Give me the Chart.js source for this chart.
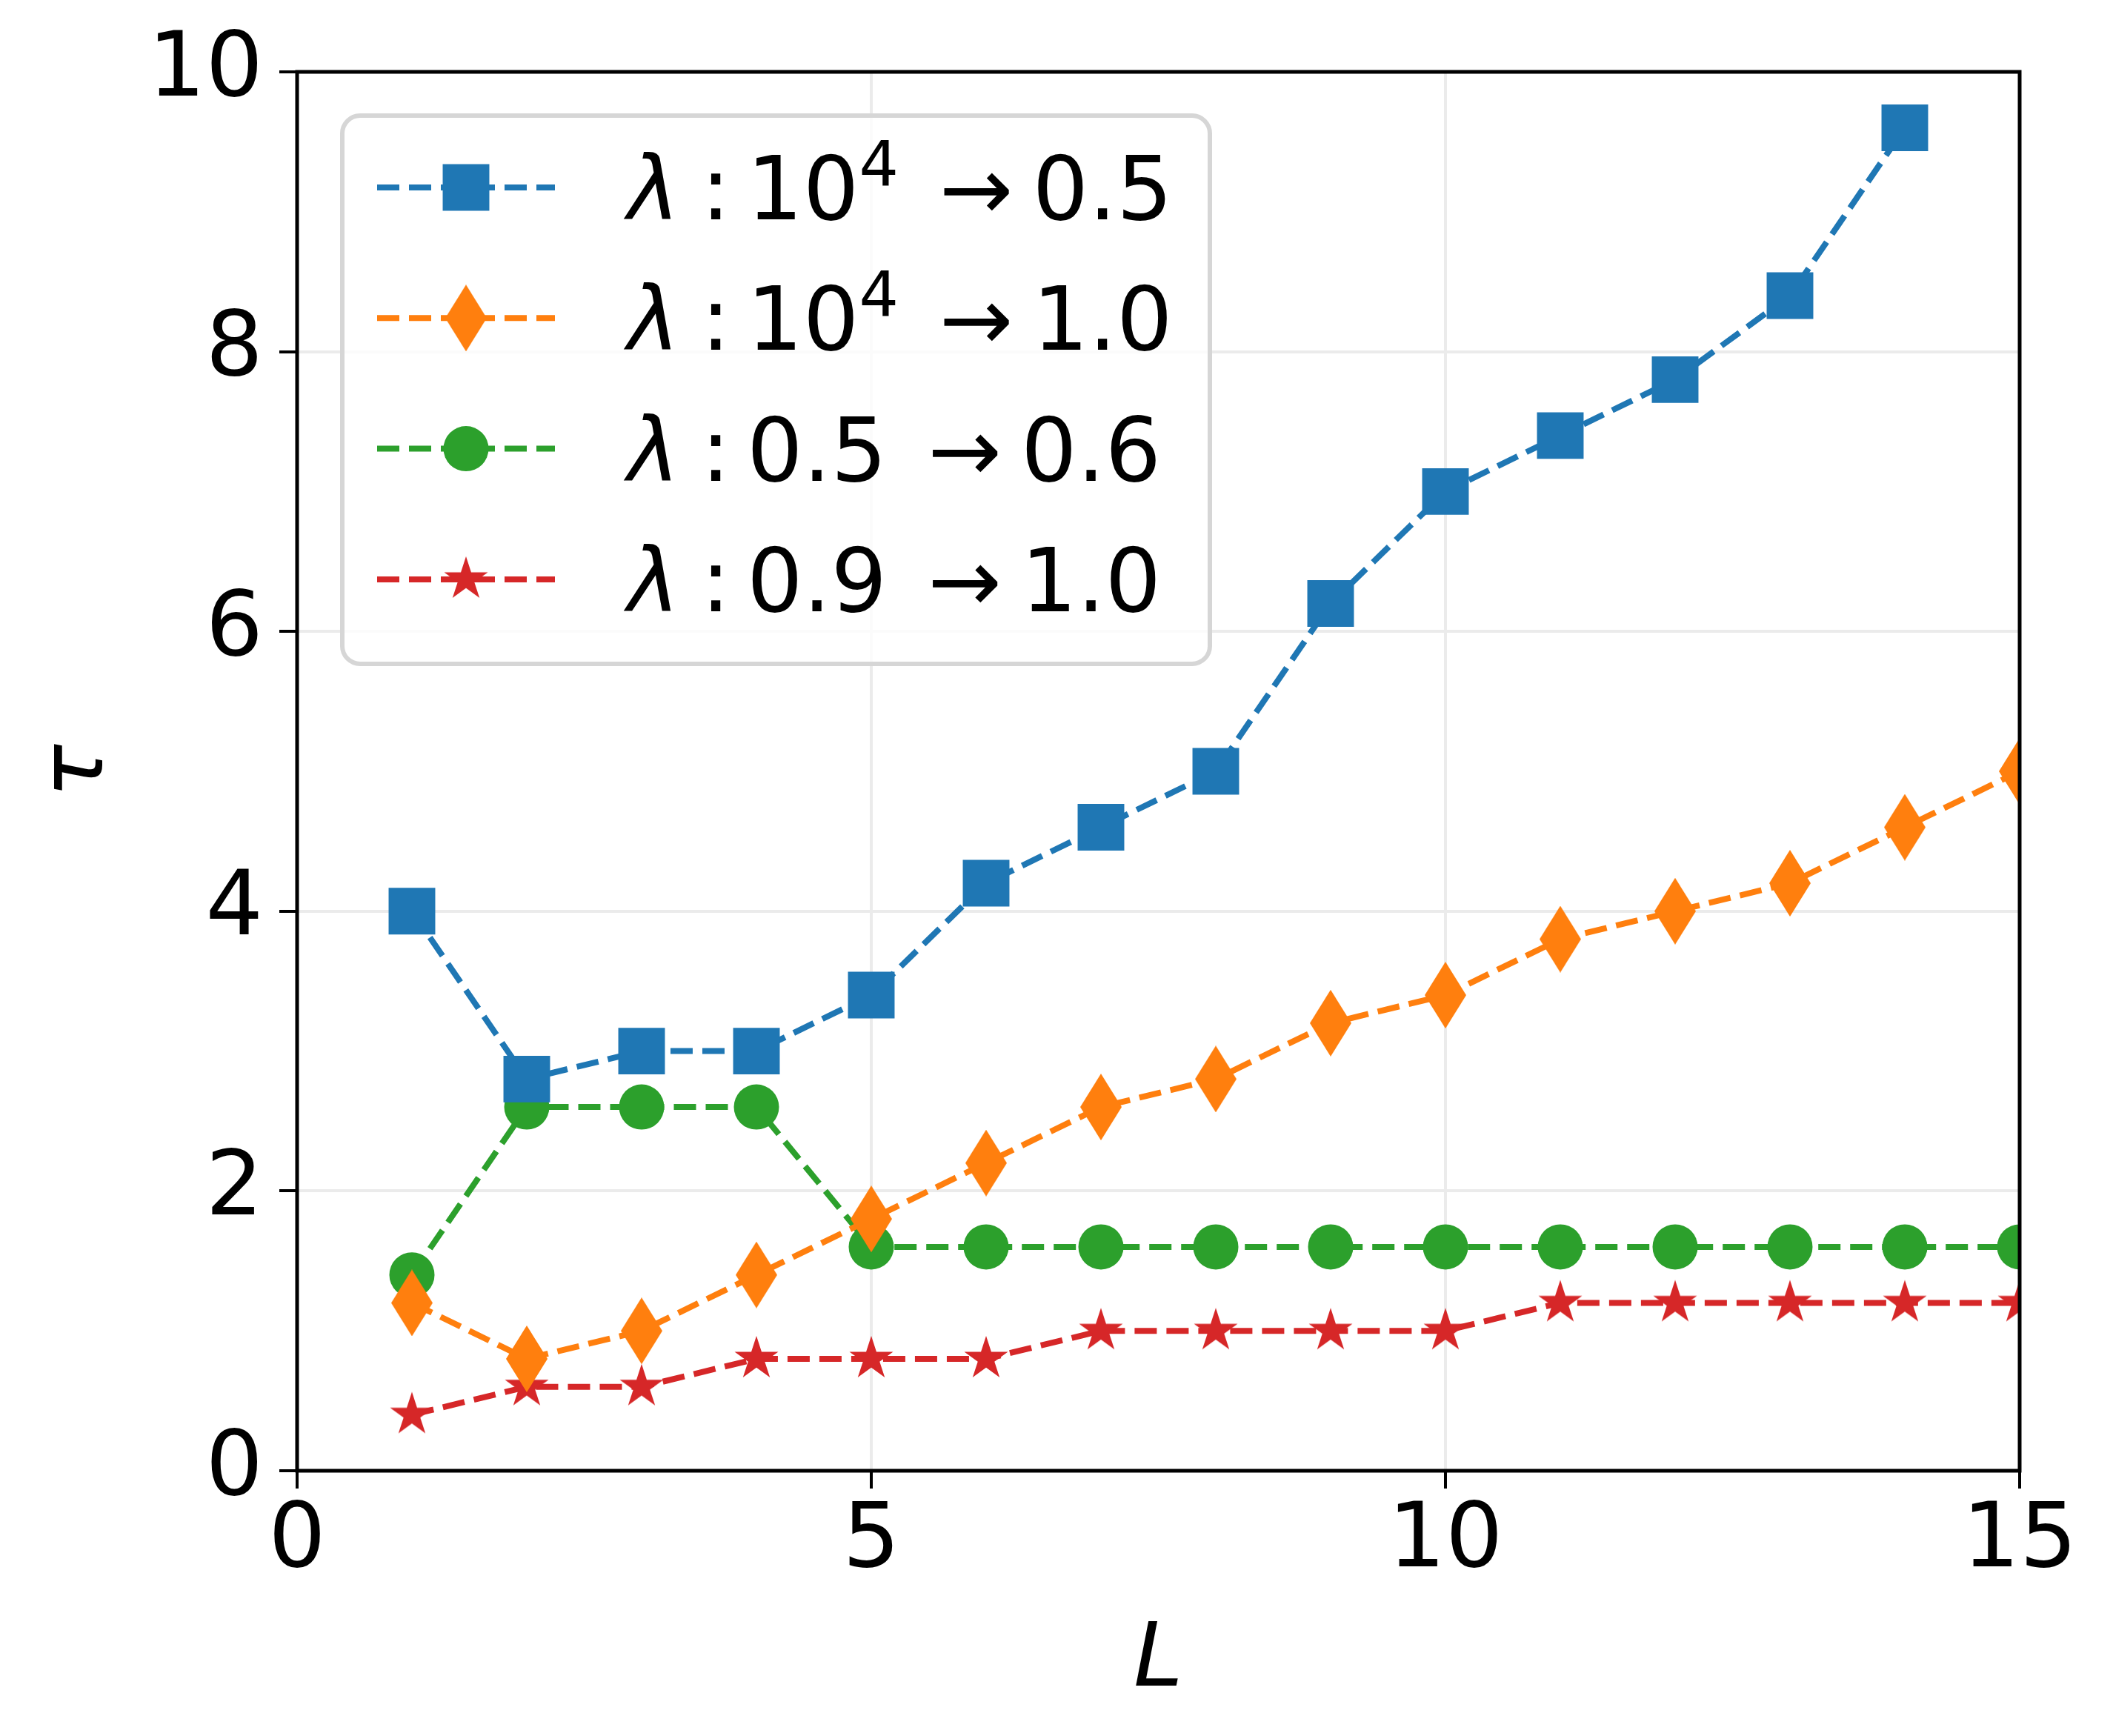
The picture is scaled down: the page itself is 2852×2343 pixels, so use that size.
<!DOCTYPE html>
<html>
<head>
<meta charset="utf-8">
<script src="https://cdn.jsdelivr.net/npm/chart.js@4.4.0/dist/chart.umd.min.js"></script>
<style>
html, body { margin: 0; padding: 0; background: #fff; }
canvas { display: block; }
</style>
</head>
<body>
<canvas id="tauChart" width="2852" height="2343"></canvas>
<script>
// data
const L = [1, 2, 3, 4, 5, 6, 7, 8, 9, 10, 11, 12, 13, 14, 15];
const tauBlue = [4.0, 2.8, 3.0, 3.0, 3.4, 4.2, 4.6, 5.0, 6.2, 7.0, 7.4, 7.8, 8.4, 9.6];
const tauOrange = [1.2, 0.8, 1.0, 1.4, 1.8, 2.2, 2.6, 2.8, 3.2, 3.4, 3.8, 4.0, 4.2, 4.6, 5.0];
const tauGreen = [1.4, 2.6, 2.6, 2.6, 1.6, 1.6, 1.6, 1.6, 1.6, 1.6, 1.6, 1.6, 1.6, 1.6, 1.6];
const tauRed = [0.4, 0.6, 0.6, 0.8, 0.8, 0.8, 1.0, 1.0, 1.0, 1.0, 1.2, 1.2, 1.2, 1.2, 1.2];

const seriesNames = ['λ: 10⁴ → 0.5', 'λ: 10⁴ → 1.0', 'λ: 0.5 → 0.6', 'λ: 0.9 → 1.0'];
const legendFrom = ['10', '10', '0.5', '0.9'];
const legendSup = ['4', '4', '', ''];
const legendTo = ['0.5', '1.0', '0.6', '1.0'];

const xTicks = [0, 5, 10, 15];
const yTicks = [0, 2, 4, 6, 8, 10];

const FONT = 'DejaVu Sans';

// matplotlib style markers that Chart.js lacks
function makeDiamond(w, h, color) {
  const c = document.createElement('canvas');
  c.width = w; c.height = h;
  const g = c.getContext('2d');
  g.fillStyle = color;
  g.beginPath();
  g.moveTo(w / 2, 0); g.lineTo(w, h / 2); g.lineTo(w / 2, h); g.lineTo(0, h / 2);
  g.closePath(); g.fill();
  return c;
}
function makeStar(R, color) {
  const size = Math.ceil(2 * R + 4);
  const c = document.createElement('canvas');
  c.width = size; c.height = size;
  const g = c.getContext('2d');
  g.fillStyle = color;
  g.translate(size / 2, size / 2);
  g.beginPath();
  for (let k = 0; k < 10; k++) {
    const a = -Math.PI / 2 + k * Math.PI / 5;
    const r = k % 2 === 0 ? R : R * 0.381966;
    g.lineTo(r * Math.cos(a), r * Math.sin(a));
  }
  g.closePath(); g.fill();
  return c;
}

const diamondImg = makeDiamond(56, 90, '#ff7f0e');
const starImg = makeStar(31, '#d62728');

const pts = ys => ys.map((y, i) => ({ x: L[i], y: y }));

function series(label, ys, color, style, radius) {
  return {
    label: label,
    data: pts(ys),
    borderColor: color,
    backgroundColor: color,
    borderWidth: 8,
    borderDash: [30, 13],
    pointStyle: style,
    pointRadius: radius,
    pointBorderWidth: 0,
    pointBackgroundColor: color,
    tension: 0,
    clip: 0,
  };
}

function drawMarker(ctx, ds, x, y) {
  const st = ds.pointStyle;
  ctx.fillStyle = ds.pointBackgroundColor;
  if (st === 'rect') {
    const s = Math.SQRT1_2 * ds.pointRadius;
    ctx.fillRect(x - s, y - s, 2 * s, 2 * s);
  } else if (st === 'circle') {
    ctx.beginPath(); ctx.arc(x, y, ds.pointRadius, 0, 2 * Math.PI); ctx.fill();
  } else {
    ctx.drawImage(st, x - st.width / 2, y - st.height / 2);
  }
}

// black box round the axes
const axesFrame = {
  id: 'axesFrame',
  afterDatasetsDraw(chart) {
    const a = chart.chartArea, ctx = chart.ctx;
    ctx.save();
    ctx.lineWidth = 5;
    ctx.strokeStyle = '#000';
    ctx.strokeRect(a.left, a.top, a.right - a.left, a.bottom - a.top);
    ctx.restore();
  }
};

// legend in the upper left corner of the axes
const legendBox = {
  id: 'legendBox',
  afterDraw(chart) {
    const ctx = chart.ctx, a = chart.chartArea;
    const bx = a.left + 61, by = a.top + 59, bw = 1171, bh = 740;
    ctx.save();
    ctx.beginPath();
    ctx.roundRect(bx, by, bw, bh, 24);
    ctx.fillStyle = 'rgba(255,255,255,0.8)';
    ctx.fill();
    ctx.lineWidth = 6;
    ctx.strokeStyle = '#d6d6d6';
    ctx.stroke();

    chart.data.datasets.forEach((ds, i) => {
      const y = by + 97 + i * 176.3;
      ctx.setLineDash([30, 13]);
      ctx.lineWidth = 8;
      ctx.strokeStyle = ds.borderColor;
      ctx.beginPath(); ctx.moveTo(bx + 47, y); ctx.lineTo(bx + 287, y); ctx.stroke();
      ctx.setLineDash([]);
      drawMarker(ctx, ds, bx + 167, y);

      const base = y + 43;
      const tx = bx + 385;
      ctx.fillStyle = '#000';
      ctx.textBaseline = 'alphabetic';
      ctx.textAlign = 'left';
      ctx.font = 'italic 119px "' + FONT + '"';
      ctx.fillText('λ', tx, base);
      ctx.font = '119px "' + FONT + '"';
      ctx.fillText(':', tx + 99, base);
      let x = tx + 161;
      ctx.fillText(legendFrom[i], x, base);
      x += ctx.measureText(legendFrom[i]).width;
      if (legendSup[i]) {
        ctx.font = '84px "' + FONT + '"';
        ctx.fillText(legendSup[i], x, base - 46);
        x += ctx.measureText(legendSup[i]).width;
        ctx.font = '119px "' + FONT + '"';
      }
      x += 55;
      ctx.fillText('→', x, base);
      x += ctx.measureText('→').width + 26;
      ctx.fillText(legendTo[i], x, base);
    });
    ctx.restore();
  }
};

const gridOpts = {
  color: '#ebebeb',
  lineWidth: 4,
  drawTicks: true,
  tickLength: 24,
  tickColor: '#000',
  tickWidth: 4,
};

const ctx = document.getElementById('tauChart').getContext('2d');
const tauChart = new Chart(ctx, {
  type: 'line',
  data: {
    datasets: [
      series(seriesNames[0], tauBlue, '#1f77b4', 'rect', 44.5),
      series(seriesNames[1], tauOrange, '#ff7f0e', diamondImg, 30),
      series(seriesNames[2], tauGreen, '#2ca02c', 'circle', 30.5),
      series(seriesNames[3], tauRed, '#d62728', starImg, 30),
    ],
  },
  options: {
    responsive: false,
    devicePixelRatio: 1,
    animation: false,
    events: [],
    layout: {
      autoPadding: false,
      padding: { left: 0, right: 126, top: 97, bottom: 0 },
    },
    plugins: {
      legend: { display: false },
      tooltip: { enabled: false },
    },
    scales: {
      x: {
        type: 'linear',
        min: 0,
        max: 15,
        afterBuildTicks: s => { s.ticks = xTicks.map(v => ({ value: v })); },
        afterFit: s => { s.height = 358; },
        grid: gridOpts,
        border: { display: false },
        ticks: {
          color: '#000',
          padding: 0,
          maxRotation: 0,
          font: { family: FONT, size: 122 },
        },
        title: {
          display: true,
          text: 'L',
          color: '#000',
          padding: { top: 0, bottom: 27 },
          font: { family: FONT, size: 120, style: 'italic' },
        },
      },
      y: {
        type: 'linear',
        min: 0,
        max: 10,
        afterBuildTicks: s => { s.ticks = yTicks.map(v => ({ value: v })); },
        afterFit: s => { s.width = 401; },
        grid: gridOpts,
        border: { display: false },
        ticks: {
          color: '#000',
          padding: 22,
          font: { family: FONT, size: 122 },
        },
        title: {
          display: true,
          text: 'τ',
          color: '#000',
          padding: { top: 35, bottom: 0 },
          font: { family: FONT, size: 120, style: 'italic' },
        },
      },
    },
  },
  plugins: [axesFrame, legendBox],
});
</script>
</body>
</html>
